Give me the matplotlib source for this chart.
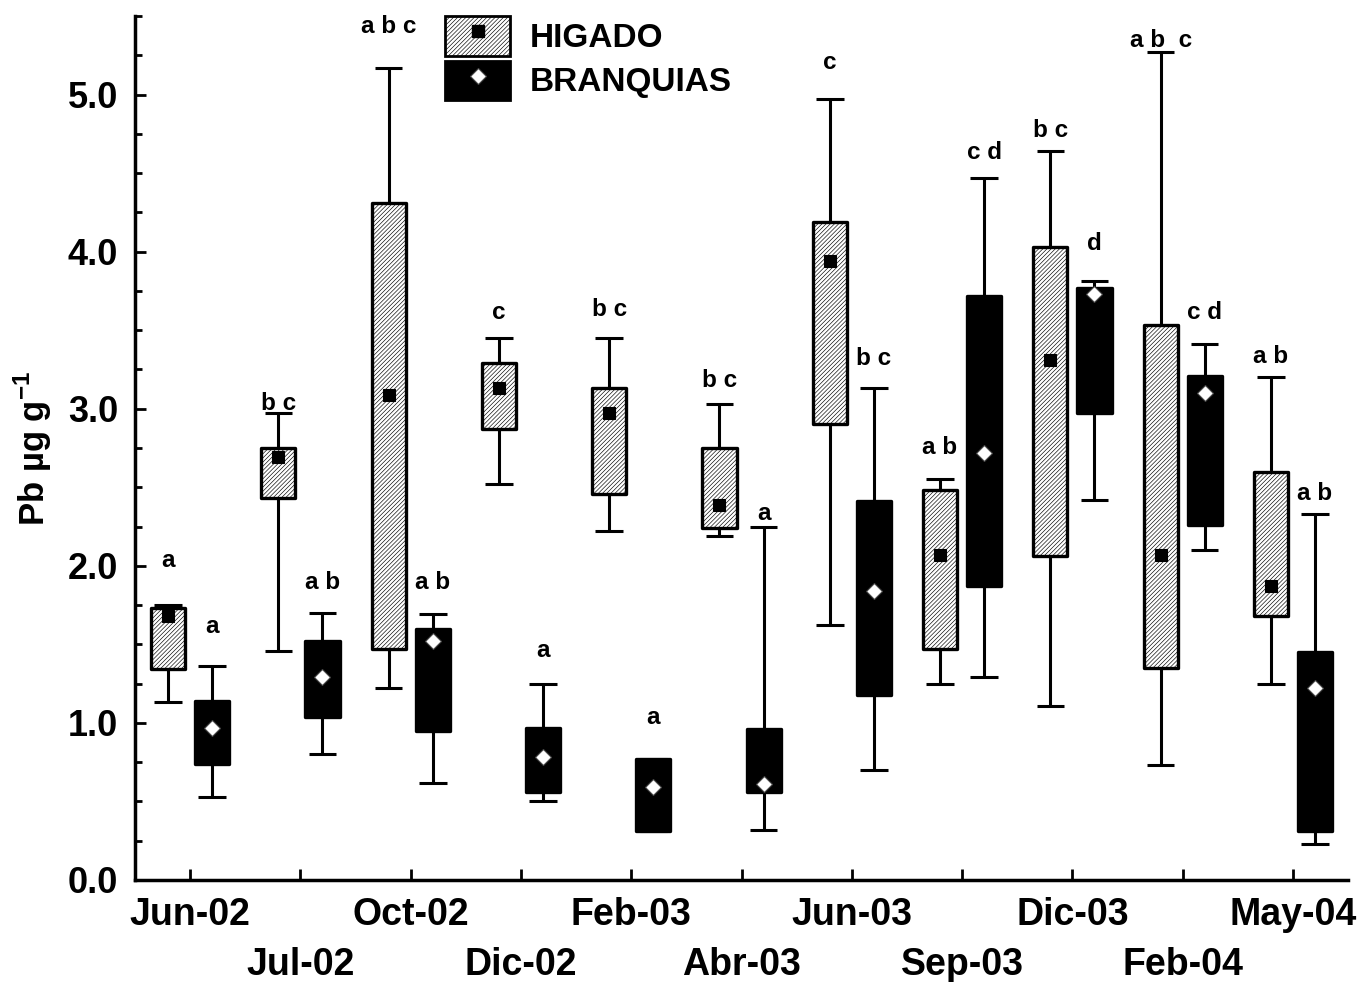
import matplotlib
matplotlib.use("Agg")
import matplotlib.pyplot as plt
import numpy as np
from matplotlib.lines import Line2D
from matplotlib.patches import Patch
from matplotlib.legend_handler import HandlerTuple
from matplotlib.ticker import MultipleLocator

plt.rcParams["font.family"] = ["Liberation Sans", "DejaVu Sans"]
plt.rcParams["font.weight"] = "bold"
plt.rcParams["mathtext.fontset"] = "custom"
plt.rcParams["mathtext.rm"] = "Liberation Sans:bold"
plt.rcParams["mathtext.bf"] = "Liberation Sans:bold"
plt.rcParams["hatch.linewidth"] = 0.45

# --- data: Pb (µg/g) per sampling month, liver vs gills ---------------------
months = ["Jun-02", "Jul-02", "Oct-02", "Dic-02", "Feb-03", "Abr-03",
          "Jun-03", "Sep-03", "Dic-03", "Feb-04", "May-04"]

higado_wlo = [1.13, 1.46, 1.22, 2.52, 2.22, 2.19, 1.62, 1.25, 1.11, 0.73, 1.25]
higado_q1 = [1.34, 2.43, 1.47, 2.87, 2.46, 2.24, 2.90, 1.47, 2.06, 1.35, 1.68]
higado_mid = [1.68, 2.69, 3.09, 3.13, 2.97, 2.39, 3.94, 2.07, 3.31, 2.07, 1.87]
higado_q3 = [1.73, 2.75, 4.31, 3.29, 3.13, 2.75, 4.19, 2.48, 4.03, 3.53, 2.60]
higado_whi = [1.75, 2.97, 5.17, 3.45, 3.45, 3.03, 4.97, 2.55, 4.64, 5.27, 3.20]

branq_wlo = [0.53, 0.80, 0.62, 0.50, 0.31, 0.32, 0.70, 1.29, 2.42, 2.10, 0.23]
branq_q1 = [0.74, 1.04, 0.95, 0.56, 0.31, 0.56, 1.18, 1.87, 2.97, 2.26, 0.31]
branq_mid = [0.97, 1.29, 1.52, 0.78, 0.59, 0.61, 1.84, 2.72, 3.73, 3.10, 1.22]
branq_q3 = [1.14, 1.52, 1.60, 0.97, 0.77, 0.96, 2.41, 3.72, 3.77, 3.21, 1.45]
branq_whi = [1.36, 1.70, 1.69, 1.25, 0.77, 2.25, 3.13, 4.47, 3.81, 3.41, 2.33]

# significance letters and their baseline heights
higado_letters = ["a", "b c", "a b c", "c", "b c", "b c", "c", "a b", "b c", "a b  c", "a b"]
higado_letter_y = [1.99, 2.99, 5.39, 3.57, 3.59, 3.14, 5.16, 2.71, 4.73, 5.30, 3.29]
branq_letters = ["a", "a b", "a b", "a", "a", "a", "b c", "c d", "d", "c d", "a b"]
branq_letter_y = [1.57, 1.85, 1.85, 1.42, 0.99, 2.29, 3.28, 4.59, 4.01, 3.57, 2.42]

x = np.arange(1, len(months) + 1)
offset = 0.2
box_w = 0.31
cap_w = 0.25
HATCH = "////////"

fig = plt.figure(figsize=(13.61, 9.82), dpi=100)
ax = fig.add_axes([0.0992, 0.1039, 0.8913, 0.8798])


def draw_series(xs, wlo, q1, mid, q3, whi, hatch, face, marker, mface, medge, msize):
    ax.vlines(xs, wlo, whi, color="black", linewidth=2.2, zorder=1)
    ax.hlines(whi, xs - cap_w / 2, xs + cap_w / 2, color="black", linewidth=2.2, zorder=1)
    ax.hlines(wlo, xs - cap_w / 2, xs + cap_w / 2, color="black", linewidth=2.2, zorder=1)
    heights = np.array(q3) - np.array(q1)
    bars = ax.bar(xs, heights, bottom=q1, width=box_w, color=face,
                  edgecolor="black", linewidth=2.4, hatch=hatch, zorder=2)
    for b in bars:
        b.set_joinstyle("round")
    ax.plot(xs, mid, linestyle="none", marker=marker, markersize=msize,
            markerfacecolor=mface, markeredgecolor=medge, markeredgewidth=0.8, zorder=3)


draw_series(x - offset, higado_wlo, higado_q1, higado_mid, higado_q3, higado_whi,
            HATCH, "white", "s", "black", "black", 8)
draw_series(x + offset, branq_wlo, branq_q1, branq_mid, branq_q3, branq_whi,
            None, "black", "D", "white", "#444444", 8)

for xi, txt, ty in zip(x - offset, higado_letters, higado_letter_y):
    ax.text(xi, ty, txt, ha="center", va="baseline", fontsize=17.5, fontweight="bold")
for xi, txt, ty in zip(x + offset, branq_letters, branq_letter_y):
    ax.text(xi, ty, txt, ha="center", va="baseline", fontsize=17.5, fontweight="bold")

# axes
ax.set_xlim(0.5, len(months) + 0.5)
ax.set_ylim(0, 5.5)
ax.set_xticks(x)
ax.set_xticklabels([m if i % 2 == 0 else "\n" + m for i, m in enumerate(months)],
                   linespacing=1.5)
ax.set_yticks(np.arange(0, 5.1, 1.0))
ax.set_yticklabels([f"{v:.1f}" for v in np.arange(0, 5.1, 1.0)])
ax.yaxis.set_minor_locator(MultipleLocator(0.25))
ax.tick_params(axis="both", which="both", direction="in", width=2)
ax.tick_params(axis="x", which="major", length=8, pad=12, labelsize=27)
ax.tick_params(axis="y", which="major", length=8, pad=12, labelsize=26)
ax.tick_params(axis="y", which="minor", length=5)
for lab in ax.get_xticklabels() + ax.get_yticklabels():
    lab.set_fontweight("bold")

ax.spines[["top", "right"]].set_visible(False)
ax.spines[["left", "bottom"]].set_linewidth(2.5)
ax.set_ylabel(r"Pb µg g$^{-1}$", fontsize=25, fontweight="bold")
ax.yaxis.set_label_coords(-0.067, 0.5)

# legend: box swatch with the mean marker drawn on top
h_patch = Patch(facecolor="white", edgecolor="black", hatch=HATCH, linewidth=2)
h_mark = Line2D([], [], linestyle="none", marker="s", markersize=8,
                markerfacecolor="black", markeredgecolor="black")
b_patch = Patch(facecolor="black", edgecolor="black", linewidth=2)
b_mark = Line2D([], [], linestyle="none", marker="D", markersize=8,
                markerfacecolor="white", markeredgecolor="#444444", markeredgewidth=0.8)
ax.legend([(h_patch, h_mark), (b_patch, b_mark)], ["HIGADO", "BRANQUIAS"],
          handler_map={tuple: HandlerTuple(ndivide=1)},
          loc="upper left", bbox_to_anchor=(0.2556, 1.0), frameon=False,
          borderpad=0, borderaxespad=0, handlelength=1.95, handleheight=1.45,
          handletextpad=0.6, labelspacing=0.15,
          prop={"size": 24, "weight": "bold"})

fig.savefig("out.png", dpi=100)
